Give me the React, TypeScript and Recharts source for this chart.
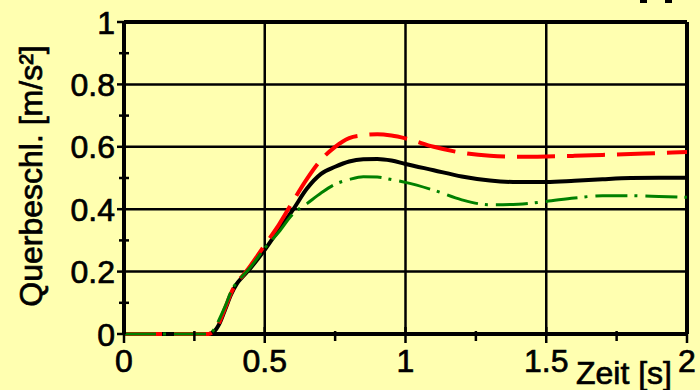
import { LineChart, Line, XAxis, YAxis, CartesianGrid, ReferenceLine } from "recharts";

// Zeitachse [s]
const zeit = [
  0, 0.1, 0.2, 0.3, 0.32, 0.34, 0.36, 0.38, 0.4, 0.42, 0.45, 0.5, 0.55, 0.6, 0.65, 0.7, 0.75, 0.8,
  0.85, 0.9, 0.95, 1.0, 1.1, 1.2, 1.3, 1.4, 1.5, 1.6, 1.7, 1.8, 1.9, 2.0,
];
// Querbeschleunigung [m/s²]
const schwarz = [
  0, 0, 0, 0, 0.008, 0.035, 0.08, 0.126, 0.16, 0.182, 0.212, 0.27, 0.335, 0.398, 0.466, 0.513, 0.536,
  0.553, 0.56, 0.561, 0.556, 0.545, 0.525, 0.505, 0.492, 0.487, 0.487, 0.491, 0.496, 0.5, 0.501, 0.501,
];
const rot = [
  0, 0, 0, 0, 0.01, 0.04, 0.085, 0.13, 0.165, 0.185, 0.22, 0.285, 0.35, 0.425, 0.497, 0.558, 0.6,
  0.628, 0.637, 0.64, 0.636, 0.627, 0.6, 0.581, 0.571, 0.568, 0.569, 0.571, 0.574, 0.577, 0.58, 0.583,
];
const gruen = [
  0, 0, 0, 0, 0.015, 0.05, 0.09, 0.135, 0.165, 0.185, 0.215, 0.275, 0.327, 0.385, 0.418, 0.452, 0.48,
  0.495, 0.504, 0.503, 0.495, 0.486, 0.461, 0.43, 0.414, 0.416, 0.425, 0.436, 0.443, 0.443, 0.441, 0.438,
];

const xTicks = [0, 0.25, 0.5, 0.75, 1, 1.25, 1.5, 1.75, 2];
const yTicks = [0, 0.1, 0.2, 0.3, 0.4, 0.5, 0.6, 0.7, 0.8, 0.9, 1];
const xGrid = [0.5, 1, 1.5];
const yGrid = [0.2, 0.4, 0.6, 0.8];

const data = zeit.map((t, i) => ({ t, schwarz: schwarz[i], rot: rot[i], gruen: gruen[i] }));

const FONT = '"Liberation Sans", Arial, sans-serif';
const BG = "#FFFFB0";
const textStyle = { fontSize: 32, fontFamily: FONT, fill: "#000", stroke: "#000", strokeWidth: 0.7 };

function XTick(props: any) {
  const { x, y, payload } = props;
  const v = payload.value as number;
  const major = Math.round(v * 4) % 2 === 0;
  return (
    <g>
      <line x1={x} x2={x} y1={major ? y - 7 : y - 3} y2={major ? y + 9 : y + 7} stroke="#000" strokeWidth={2.5} />
      {major && (
        <text x={x} y={y + 38} textAnchor="middle" {...textStyle}>
          {String(v)}
        </text>
      )}
    </g>
  );
}

function YTick(props: any) {
  const { x, y, payload } = props;
  const v = payload.value as number;
  const major = Math.round(v * 10) % 2 === 0;
  return (
    <g>
      <line x1={major ? x - 7 : x - 5} x2={major ? x : x + 5} y1={y} y2={y} stroke="#000" strokeWidth={2.5} />
      {major && (
        <text x={x - 9} y={y} dy="0.36em" textAnchor="end" {...textStyle}>
          {String(v)}
        </text>
      )}
    </g>
  );
}

export default function App() {
  return (
    <div style={{ position: "relative", width: 700, height: 390, background: BG, overflow: "hidden" }}>
      <style>{`body{margin:0}`}</style>
      {/* abgeschnittene Reste oben rechts */}
      <div style={{ position: "absolute", left: 640, top: 0, width: 7, height: 3, background: "#000" }} />
      <div style={{ position: "absolute", left: 665, top: 0, width: 7, height: 3, background: "#000" }} />
      <LineChart width={700} height={390} data={data} margin={{ top: 22, right: 13, bottom: 0, left: 0 }}>
        <CartesianGrid
          horizontalValues={yGrid}
          verticalValues={xGrid}
          stroke="#000"
          strokeWidth={2.5}
        />
        <XAxis
          dataKey="t"
          type="number"
          domain={[0, 2]}
          ticks={xTicks}
          interval={0}
          height={56}
          tickSize={0}
          tickMargin={0}
          tickLine={false}
          tick={<XTick />}
          axisLine={false}
          label={{
            content: (p: any) => {
              const vb = p.viewBox;
              return (
                <text x={vb.x + vb.width - 15} y={vb.y + 50} textAnchor="end" {...textStyle}>
                  Zeit [s]
                </text>
              );
            },
          }}
        />
        <YAxis
          type="number"
          domain={[0, 1]}
          ticks={yTicks}
          interval={0}
          width={124}
          tickSize={0}
          tickMargin={0}
          tickLine={false}
          tick={<YTick />}
          axisLine={{ stroke: "#000", strokeWidth: 4 }}
          label={{
            content: (p: any) => {
              const vb = p.viewBox;
              const cx = vb.x + 42;
              const cy = vb.y + vb.height / 2 - 2;
              return (
                <text
                  x={cx}
                  y={cy}
                  textAnchor="middle"
                  transform={`rotate(-90, ${cx}, ${cy})`}
                  {...textStyle}
                >
                  Querbeschl. [m/s²]
                </text>
              );
            },
          }}
        />
        <ReferenceLine y={0} stroke="#000" strokeWidth={4} />
        <ReferenceLine y={1} stroke="#000" strokeWidth={4} />
        <ReferenceLine x={2} stroke="#000" strokeWidth={4} />
        <Line
          dataKey="schwarz"
          type="monotone"
          stroke="#000"
          strokeWidth={4}
          dot={false}
          isAnimationActive={false}
        />
        <Line
          dataKey="rot"
          type="monotone"
          stroke="#FF0000"
          strokeWidth={4}
          strokeDasharray="38 12"
          dot={false}
          isAnimationActive={false}
        />
        <Line
          dataKey="gruen"
          type="monotone"
          stroke="#008000"
          strokeWidth={3}
          strokeDasharray="32 7 3 8"
          dot={false}
          isAnimationActive={false}
        />
      </LineChart>
    </div>
  );
}
